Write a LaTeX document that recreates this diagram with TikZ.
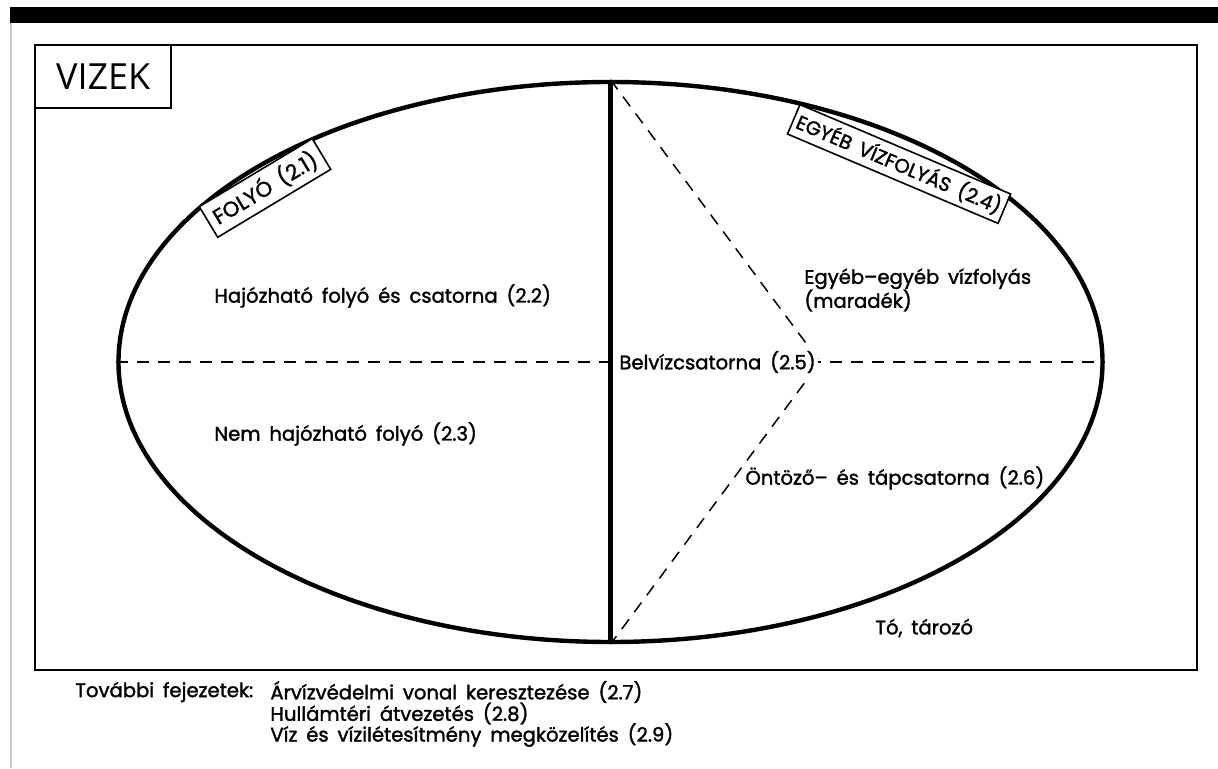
\documentclass[tikz,border=0pt]{standalone}
\usepackage{fontspec}
\setmainfont{Poppins}[WordSpace=1.7, FakeBold=1.6]
\newfontfamily\titlefont{Open Sans}
\usetikzlibrary{shapes.geometric}
\begin{document}
\begin{tikzpicture}[x=0.5pt,y=-0.5pt,
  lbl/.style={font=\fontsize{9.8}{12}\selectfont, inner sep=0pt, anchor=west},
  dashln/.style={line width=0.75pt, dash pattern=on 6pt off 4.5pt},
  tagbox/.style={draw, line width=0.8pt, font=\fontsize{9.8}{12}\selectfont, inner xsep=3pt, inner ysep=2.5pt, fill=white}]
\useasboundingbox (0,0) rectangle (1218,769);
% top bar and left rule
\fill[black] (10,7) rectangle (1218,23);
\draw[black!20, line width=0.8pt] (11,23) -- (11,768);
% frame
\node[draw, line width=1.2pt, minimum width=581pt, minimum height=312.5pt, inner sep=0pt, anchor=north west] (frame) at (34,44) {};
\node[draw, line width=1.2pt, minimum width=68pt, minimum height=31.5pt, inner sep=0pt, anchor=north west] (title) at (34,44) {};
\node[font=\titlefont\fontsize{18}{20}\selectfont, inner sep=0pt] (titletext) at (title.center) {VIZEK};
% ellipse
\node[draw, ellipse, line width=2.2pt, minimum width=492pt, minimum height=280pt, inner sep=0pt] (E) at (610.5,362) {};
\draw[dashln] (E.west) -- (E.east);
\coordinate (V) at (820,362);
\draw[dashln] (E.north) -- (V) -- (E.south);
\draw[line width=2.2pt] (E.north) -- (E.south);
% tags
\node[tagbox, rotate=31, font=\fontsize{10.6}{12}\selectfont, inner xsep=3.5pt, inner ysep=3pt] (folyo) at (265,188) {FOLYÓ (2.1)};
\node[tagbox, rotate=-23, inner xsep=2pt] (egyeb) at (899,164) {EGYÉB VÍZFOLYÁS (2.4)};
% labels
\node[lbl] (hajo) at (214,296) {Hajózható folyó és csatorna (2.2)};
\node[lbl] (nemhajo) at (214,434) {Nem hajózható folyó (2.3)};
\node[lbl, fill=white, inner xsep=1pt, inner ysep=2pt] (belviz) at (617,362) {Belvízcsatorna (2.5)};
\node[lbl, align=left] (egyebegyeb) at (804,290) {Egyéb–egyéb vízfolyás\\(maradék)};
\node[lbl] (ontozo) at (745,478) {Öntöző– és tápcsatorna (2.6)};
\node[lbl] (to) at (875,628) {Tó, tározó};
% footer
\node[lbl] (tovabbi) at (75,692) {További fejezetek:};
\node[lbl] (f1) at (270,692) {Árvízvédelmi vonal keresztezése (2.7)};
\node[lbl] (f2) at (270,713.5) {Hullámtéri átvezetés (2.8)};
\node[lbl] (f3) at (270,735) {Víz és vízilétesítmény megközelítés (2.9)};
\end{tikzpicture}
\end{document}
